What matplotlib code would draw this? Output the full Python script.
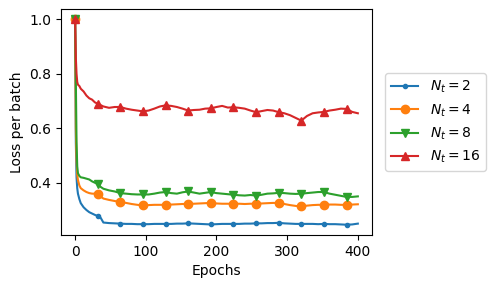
import matplotlib
matplotlib.use("Agg")
import matplotlib.pyplot as plt

epochs = [0, 1, 2, 3, 4, 6, 8, 12, 16, 20, 24, 28, 32, 36, 40] + list(range(48, 401, 8))

loss_nt2 = [1.0, 0.55, 0.42, 0.38, 0.36, 0.34, 0.325, 0.31, 0.30, 0.292, 0.287, 0.282, 0.278, 0.272, 0.254,
            0.252, 0.251, 0.250, 0.249, 0.249, 0.248, 0.248, 0.248, 0.249, 0.249, 0.249, 0.249, 0.250, 0.250,
            0.251, 0.250, 0.249, 0.248, 0.247, 0.248, 0.249, 0.249, 0.249, 0.249, 0.250, 0.250, 0.251, 0.251,
            0.252, 0.252, 0.253, 0.251, 0.250, 0.249, 0.249, 0.249, 0.249, 0.248, 0.249, 0.248, 0.248, 0.247,
            0.246, 0.247, 0.250]
loss_nt4 = [1.0, 0.60, 0.48, 0.43, 0.41, 0.39, 0.38, 0.372, 0.366, 0.362, 0.360, 0.360, 0.358, 0.350, 0.342,
            0.337, 0.333, 0.329, 0.326, 0.322, 0.319, 0.317, 0.318, 0.319, 0.319, 0.319, 0.320, 0.321, 0.322,
            0.323, 0.323, 0.324, 0.325, 0.326, 0.324, 0.323, 0.323, 0.323, 0.323, 0.322, 0.323, 0.323, 0.324,
            0.325, 0.326, 0.326, 0.322, 0.318, 0.315, 0.313, 0.316, 0.318, 0.319, 0.319, 0.320, 0.320, 0.319,
            0.319, 0.320, 0.321]
loss_nt8 = [1.0, 0.78, 0.55, 0.46, 0.435, 0.425, 0.42, 0.418, 0.415, 0.412, 0.405, 0.400, 0.396, 0.385, 0.378,
            0.372, 0.368, 0.362, 0.360, 0.358, 0.357, 0.357, 0.357, 0.360, 0.364, 0.366, 0.362, 0.360, 0.365,
            0.368, 0.364, 0.360, 0.363, 0.366, 0.362, 0.360, 0.358, 0.356, 0.354, 0.353, 0.355, 0.353, 0.356,
            0.360, 0.361, 0.363, 0.362, 0.360, 0.359, 0.360, 0.362, 0.364, 0.366, 0.366, 0.360, 0.356, 0.352,
            0.348, 0.348, 0.350]
loss_nt16 = [1.0, 0.86, 0.80, 0.77, 0.76, 0.755, 0.745, 0.735, 0.72, 0.71, 0.705, 0.695, 0.69, 0.685, 0.68,
             0.675, 0.678, 0.678, 0.672, 0.668, 0.665, 0.662, 0.665, 0.672, 0.680, 0.684, 0.682, 0.678, 0.672,
             0.665, 0.667, 0.668, 0.672, 0.673, 0.678, 0.682, 0.676, 0.677, 0.675, 0.672, 0.665, 0.659, 0.663,
             0.667, 0.665, 0.659, 0.655, 0.648, 0.638, 0.628, 0.645, 0.655, 0.658, 0.660, 0.665, 0.668, 0.672,
             0.671, 0.660, 0.655]

series = [
    (loss_nt2, "$N_t = 2$", "."),
    (loss_nt4, "$N_t = 4$", "o"),
    (loss_nt8, "$N_t = 8$", "v"),
    (loss_nt16, "$N_t = 16$", "^"),
]

# markers every 32 epochs
mark_idx = [i for i, e in enumerate(epochs) if e % 32 == 0]

fig = plt.figure(figsize=(4.89, 2.89), dpi=100)
ax = fig.add_axes([0.1247, 0.1869, 0.636, 0.782])

for vals, label, mk in series:
    ax.plot(epochs, vals, marker=mk, markevery=mark_idx, label=label)

ax.set_xlabel("Epochs")
ax.set_ylabel("Loss per batch")
ax.set_yticks([0.4, 0.6, 0.8, 1.0])
ax.legend(loc="center left", bbox_to_anchor=(1.02, 0.5))

fig.savefig("out.png", dpi=100)
